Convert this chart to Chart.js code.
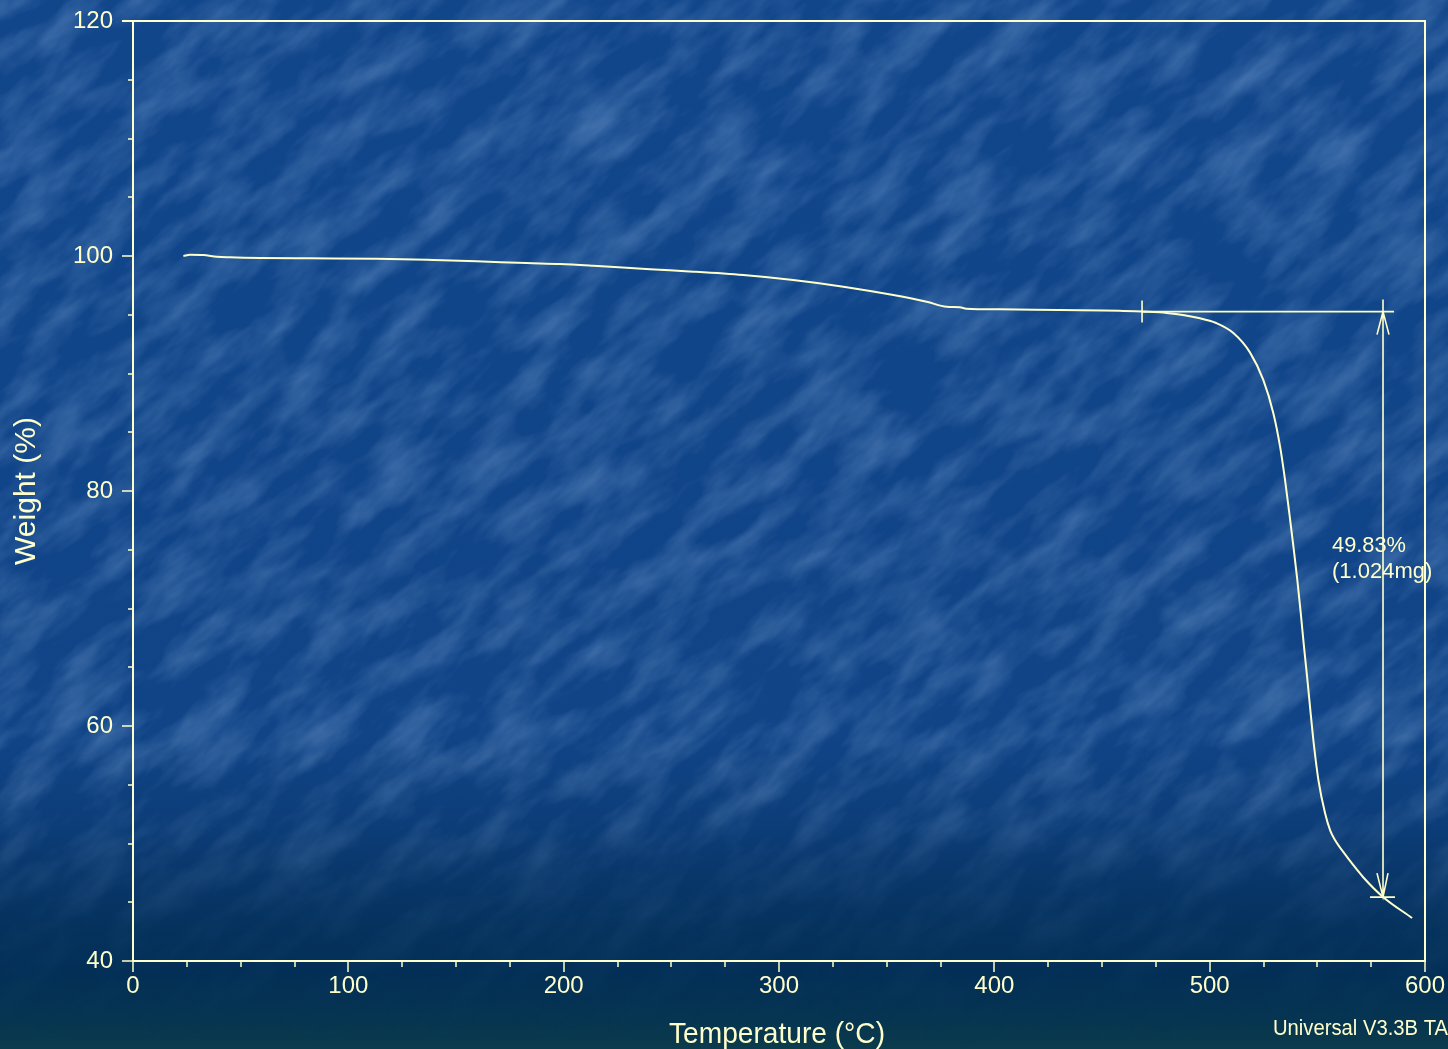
<!DOCTYPE html>
<html>
<head>
<meta charset="utf-8">
<title>TGA – Weight vs Temperature</title>
<script src="https://cdn.jsdelivr.net/npm/chart.js@4.4.1/dist/chart.umd.min.js"></script>
<style>
  html, body { margin: 0; padding: 0; }
  body {
    width: 1448px; height: 1049px; overflow: hidden; position: relative;
    background: linear-gradient(to bottom,
      #11468b 0%, #104487 70%, #0d3e7a 78%, #09376b 83%,
      #05325e 88%, #032f56 93%, #063451 97%, #0b3b4c 100%);
  }
  /* mottled slate texture, fading out towards the bottom */
  #texture {
    position: absolute; left: 0; top: 0; width: 1448px; height: 1049px;
    background-image: url("data:image/svg+xml;utf8,<svg xmlns='http://www.w3.org/2000/svg' width='1448' height='1049'><filter id='n' x='0' y='0' width='100%' height='100%'><feTurbulence type='fractalNoise' baseFrequency='0.013 0.034' numOctaves='4' seed='11'/><feColorMatrix values='0 0 0 0 0.40  0 0 0 0 0.60  0 0 0 0 0.90  0.55 0 0 0 -0.2'/></filter><g transform='rotate(-40 724 524)'><rect x='-700' y='-700' width='2850' height='2450' filter='url(%23n)'/></g></svg>");
    -webkit-mask-image: linear-gradient(to bottom, #000 0%, #000 72%, rgba(0,0,0,0.35) 84%, rgba(0,0,0,0.1) 92%, rgba(0,0,0,0) 100%);
    mask-image: linear-gradient(to bottom, #000 0%, #000 72%, rgba(0,0,0,0.35) 84%, rgba(0,0,0,0.1) 92%, rgba(0,0,0,0) 100%);
  }
  #wrap { position: absolute; left: 0; top: 0; width: 1448px; height: 1049px; }
</style>
</head>
<body>
<div id="texture"></div>
<div id="wrap"><canvas id="tga" width="1448" height="1049"></canvas></div>
<script>
// Thermogravimetric trace: sample temperature (°C) and remaining weight (%)
const temperatureC = [
  23.4, 26.5, 32.6, 38.9, 45, 59, 82.2, 113.2, 139.5, 159.6, 182.8, 198.3,
  213.8, 240.1, 260.2, 283.4, 306.6, 329.9, 353.1, 368.6, 377.9, 384, 387,
  402.6, 430, 458, 468.6, 480, 495.5, 503, 511, 518.7, 524.9, 529.6, 532.7,
  535.0, 537.0, 538.9, 540.7, 542.3, 543.8, 545.4, 546.9, 548.5, 550.5, 553.6,
  556.0, 558.2, 563.6, 566.1, 571.2, 580.5, 594
];
const weightPct = [
  100.0, 100.1, 100.08, 99.94, 99.89, 99.83, 99.8, 99.77, 99.66, 99.55, 99.4, 99.32,
  99.17, 98.87, 98.67, 98.38, 97.96, 97.39, 96.68, 96.11, 95.68, 95.64, 95.52,
  95.46, 95.4, 95.35, 95.27, 95.15, 94.7, 94.3, 93.45, 91.8, 89.45, 86.6, 83.77,
  80.94, 78.1, 75.26, 72.43, 69.6, 66.75, 63.91, 61.08, 58.24, 55.4, 52.57,
  51.1, 50.3, 48.9, 48.3, 47.15, 45.45, 43.66
];

// Axis ranges and labelled ticks
const xRange = [0, 600];
const xLabelTicks = [0, 100, 200, 300, 400, 500, 600];
const xMinorStep = 25;
const yRange = [40, 120];
const yLabelTicks = [40, 60, 80, 100, 120];
const yMinorStep = 5;

// Step-change annotation
const stepStartTemp = 468.6;   // onset marker
const stepMarkerTemp = 580.5;  // measuring arrow
const stepLineEndTemp = 585.6; // end of the upper reference line
const stepTopWeight = 95.27;
const stepLossPct = 49.83;
const stepLossMass = 1.024;    // mg
const stepBottomWeight = stepTopWeight - stepLossPct;

const INK = '#ffffcc';
const FONT = '"Liberation Sans", Arial, Helvetica, sans-serif';

const points = temperatureC.map((t, i) => ({ x: t, y: weightPct[i] }));

// Frame, tick marks, step annotation, axis titles
const tgaDecor = {
  id: 'tgaDecor',
  afterDatasetsDraw(chart) {
    const { ctx, chartArea: a, scales: { x, y } } = chart;
    ctx.save();
    ctx.strokeStyle = INK;
    ctx.fillStyle = INK;
    ctx.lineCap = 'butt';

    // plot frame
    ctx.lineWidth = 2;
    ctx.beginPath();
    ctx.moveTo(a.left, a.top); ctx.lineTo(a.left, a.bottom);
    ctx.moveTo(a.left, a.bottom); ctx.lineTo(a.right, a.bottom);
    ctx.moveTo(a.right, a.top); ctx.lineTo(a.right, a.bottom + 1);
    ctx.moveTo(a.left - 11, a.top); ctx.lineTo(a.right + 1, a.top);
    ctx.stroke();

    // tick marks: long at labelled values, short in between
    ctx.lineWidth = 1.5;
    ctx.beginPath();
    for (let v = xRange[0]; v <= xRange[1]; v += xMinorStep) {
      const px = Math.round(x.getPixelForValue(v));
      const len = xLabelTicks.includes(v) ? 11 : 6;
      ctx.moveTo(px, a.bottom); ctx.lineTo(px, a.bottom + len);
    }
    for (let v = yRange[0]; v <= yRange[1]; v += yMinorStep) {
      const py = Math.round(y.getPixelForValue(v));
      const len = yLabelTicks.includes(v) ? 11 : 5;
      ctx.moveTo(a.left, py); ctx.lineTo(a.left - len, py);
    }
    ctx.stroke();

    // step annotation
    const xs = x.getPixelForValue(stepStartTemp);
    const xm = x.getPixelForValue(stepMarkerTemp);
    const xe = x.getPixelForValue(stepLineEndTemp);
    const yt = y.getPixelForValue(stepTopWeight);
    const yb = y.getPixelForValue(stepBottomWeight);
    ctx.lineWidth = 1.6;
    ctx.beginPath();
    ctx.moveTo(xs, yt); ctx.lineTo(xe, yt);              // upper reference
    ctx.moveTo(xs, yt - 11); ctx.lineTo(xs, yt + 11);    // onset tick
    ctx.moveTo(xm, yt - 12); ctx.lineTo(xm, yb);         // measuring line
    ctx.moveTo(xm - 6, yt + 23); ctx.lineTo(xm, yt); ctx.lineTo(xm + 6, yt + 23);
    ctx.moveTo(xm - 6, yb - 24); ctx.lineTo(xm, yb); ctx.lineTo(xm + 5, yb - 24);
    ctx.moveTo(xm - 13, yb); ctx.lineTo(xm + 12, yb);    // lower reference
    ctx.stroke();

    const ym = (yt + yb) / 2;
    ctx.font = '22px ' + FONT;
    ctx.textAlign = 'left';
    ctx.textBaseline = 'alphabetic';
    ctx.fillText(stepLossPct.toFixed(2) + '%', xm - 51, ym - 52, 74);
    ctx.fillText('(' + stepLossMass.toFixed(3) + 'mg)', xm - 51, ym - 26, 104);

    // axis titles
    ctx.font = '30px ' + FONT;
    ctx.textAlign = 'center';
    ctx.fillText('Temperature (°C)', (a.left + a.right) / 2 - 2, 1043, 216);
    ctx.save();
    ctx.translate(35, (a.top + a.bottom) / 2);
    ctx.rotate(-Math.PI / 2);
    ctx.fillText('Weight (%)', 0, 0, 150);
    ctx.restore();

    // instrument software tag
    ctx.font = '22px ' + FONT;
    ctx.textAlign = 'left';
    ctx.fillText('Universal V3.3B TA', 1273, 1035, 175);
    ctx.restore();
  }
};

const fitX = s => { s.height = 88; s.paddingLeft = 0; s.paddingRight = 0; s.paddingTop = 0; s.paddingBottom = 0; };
const fitY = s => { s.width = 133; s.paddingLeft = 0; s.paddingRight = 0; s.paddingTop = 0; s.paddingBottom = 0; };

new Chart(document.getElementById('tga'), {
  type: 'line',
  data: {
    datasets: [{
      label: 'Weight (%)',
      data: points,
      borderColor: INK,
      borderWidth: 2,
      pointRadius: 0,
      fill: false,
      cubicInterpolationMode: 'monotone'
    }]
  },
  options: {
    responsive: false,
    animation: false,
    events: [],
    layout: { padding: { top: 21, right: 23, bottom: 0, left: 0 } },
    plugins: { legend: { display: false }, tooltip: { enabled: false } },
    scales: {
      x: {
        type: 'linear',
        min: xRange[0], max: xRange[1],
        grid: { display: false, drawTicks: false },
        border: { display: false },
        afterBuildTicks: s => { s.ticks = xLabelTicks.map(v => ({ value: v })); },
        afterFit: fitX,
        ticks: {
          color: INK, padding: 11, maxRotation: 0, autoSkip: false,
          font: { family: FONT, size: 24 }
        }
      },
      y: {
        type: 'linear',
        min: yRange[0], max: yRange[1],
        grid: { display: false, drawTicks: false },
        border: { display: false },
        afterBuildTicks: s => { s.ticks = yLabelTicks.map(v => ({ value: v })); },
        afterFit: fitY,
        ticks: {
          color: INK, padding: 20,
          font: { family: FONT, size: 24 }
        }
      }
    }
  },
  plugins: [tgaDecor]
});
</script>
</body>
</html>
